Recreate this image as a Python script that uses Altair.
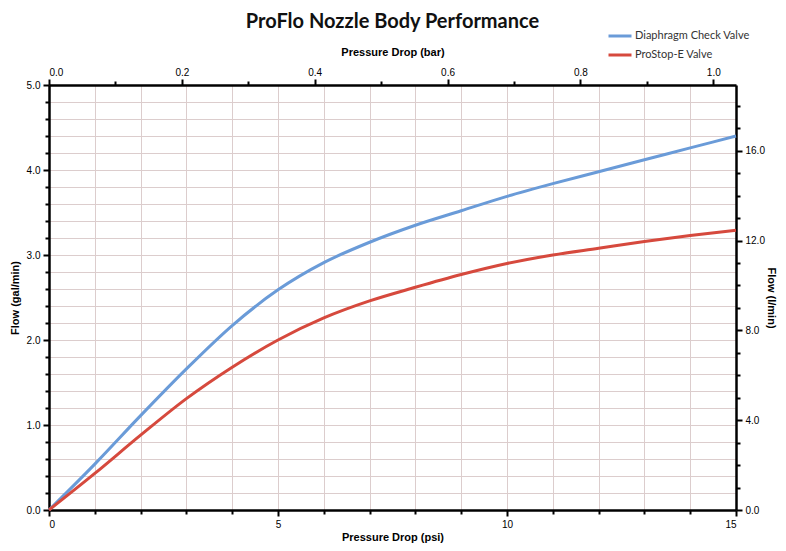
import altair as alt
import pandas as pd

# ---- data ----
psi = [0, 1, 2, 3, 4, 5, 6, 7, 8, 9, 10, 11, 12, 13, 14, 15]
diaphragm = [0, 0.54, 1.11, 1.66, 2.17, 2.59, 2.91, 3.15, 3.35, 3.52, 3.69, 3.84, 3.98, 4.12, 4.26, 4.40]
prostop = [0, 0.43, 0.88, 1.31, 1.68, 2.00, 2.26, 2.46, 2.62, 2.77, 2.90, 3.00, 3.08, 3.16, 3.23, 3.29]
series_names = ["Diaphragm Check Valve", "ProStop-E Valve"]
series_colors = ["#6a9bd8", "#d6493d"]

psi_ticks = [0, 1, 2, 3, 4, 5, 6, 7, 8, 9, 10, 11, 12, 13, 14, 15]
gal_ticks = [0.0, 0.2, 0.4, 0.6, 0.8, 1.0, 1.2, 1.4, 1.6, 1.8, 2.0, 2.2, 2.4, 2.6, 2.8,
             3.0, 3.2, 3.4, 3.6, 3.8, 4.0, 4.2, 4.4, 4.6, 4.8, 5.0]
bar_ticks = [0.0, 0.1, 0.2, 0.3, 0.4, 0.5, 0.6, 0.7, 0.8, 0.9, 1.0]
lpm_ticks = [0, 1, 2, 3, 4, 5, 6, 7, 8, 9, 10, 11, 12, 13, 14, 15, 16, 17, 18]

psi_max = 15
bar_max = 15 / 14.5038
gal_max = 5
lpm_max = 5 * 3.78541

rows = []
for name, vals in zip(series_names, [diaphragm, prostop]):
    for p, v in zip(psi, vals):
        rows.append({"psi": p, "flow": v, "series": name})
df = pd.DataFrame(rows)
dummy = pd.DataFrame({"bar": [0, bar_max], "lpm": [0, lpm_max]})

FONT = "Lato"
LABEL_COLOR = "#444444"
GRID = "#dccdcd"

def major(test, big, small):
    return {"condition": {"test": test, "value": big}, "value": small}

lines = alt.Chart(df).mark_line(strokeWidth=3, interpolate="monotone").encode(
    x=alt.X("psi:Q", scale=alt.Scale(domain=[0, psi_max], nice=False, zero=True),
            axis=alt.Axis(title="Pressure Drop (psi)", orient="bottom", values=psi_ticks,
                          labelExpr="datum.value % 5 === 0 ? format(datum.value, 'd') : ''",
                          grid=True, gridColor=GRID, gridWidth=1,
                          tickSize=major("datum.value % 5 === 0", 6, 4),
                          tickWidth=2, tickColor="black",
                          domainColor="black", domainWidth=2.5,
                          labelPadding=3, titlePadding=2, labelOverlap=False)),
    y=alt.Y("flow:Q", scale=alt.Scale(domain=[0, gal_max], nice=False),
            axis=alt.Axis(title="Flow (gal/min)", orient="left", values=gal_ticks,
                          labelExpr="abs(datum.value - round(datum.value)) < 0.001 ? format(datum.value, '.1f') : ''",
                          grid=True, gridColor=GRID, gridWidth=1,
                          tickSize=major("abs(datum.value - round(datum.value)) < 0.001", 6, 4),
                          tickWidth=2, tickColor="black",
                          domainColor="black", domainWidth=2.5,
                          labelPadding=3, titlePadding=6, labelOverlap=False)),
    color=alt.Color("series:N", scale=alt.Scale(domain=series_names, range=series_colors),
                    legend=alt.Legend(title=None, orient="none", legendX=558, legendY=-62,
                                      symbolType="stroke", symbolSize=529, symbolStrokeWidth=3,
                                      labelFont=FONT, labelFontSize=11, labelColor="#333333",
                                      rowPadding=-6, labelOffset=2)),
)

secondary = alt.Chart(dummy).mark_point(opacity=0).encode(
    x=alt.X("bar:Q", scale=alt.Scale(domain=[0, bar_max], nice=False, zero=True),
            axis=alt.Axis(title="Pressure Drop (bar)", orient="top", values=bar_ticks,
                          labelExpr="abs(datum.value*5 - round(datum.value*5)) < 0.001 ? format(datum.value, '.1f') : ''",
                          grid=False,
                          tickSize=major("abs(datum.value*5 - round(datum.value*5)) < 0.001", 6, 4),
                          tickWidth=2, tickColor="black",
                          domainColor="black", domainWidth=2.5,
                          labelPadding=2, titlePadding=10, labelOverlap=False)),
    y=alt.Y("lpm:Q", scale=alt.Scale(domain=[0, lpm_max], nice=False),
            axis=alt.Axis(title="Flow (l/min)", orient="right", values=lpm_ticks,
                          labelExpr="datum.value % 4 === 0 ? format(datum.value, '.1f') : ''",
                          grid=False,
                          tickSize=major("datum.value % 4 === 0", 6, 4),
                          tickWidth=2, tickColor="black",
                          domainColor="black", domainWidth=2.5,
                          labelPadding=3, titlePadding=1, labelOverlap=False)),
)

chart = alt.layer(lines, secondary).resolve_scale(x="independent", y="independent").properties(
    width=687, height=425,
    autosize=alt.AutoSizeParams(type="none"),
    padding={"left": 41, "top": 77, "right": 42, "bottom": 33},
    title=alt.TitleParams("ProFlo Nozzle Body Performance", font=FONT, fontSize=20,
                          fontWeight="bold", color="#111111", anchor="middle", offset=-9),
).configure_view(strokeWidth=0).configure_axis(
    labelFont=FONT, labelFontSize=11, labelColor=LABEL_COLOR,
    titleFont=FONT, titleFontSize=11, titleFontWeight="bold", titleColor="#111111",
).configure(background="white")

chart.save("out.html", embed_options={"renderer": "svg", "actions": False})
